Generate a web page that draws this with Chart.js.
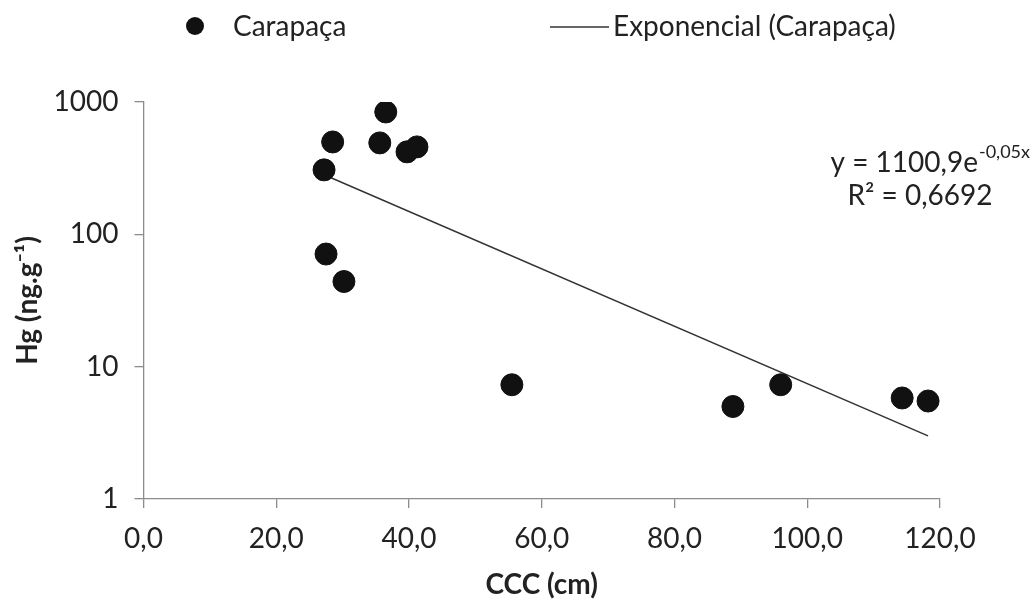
<!DOCTYPE html>
<html>
<head>
<meta charset="utf-8">
<script src="https://cdn.jsdelivr.net/npm/chart.js@4"></script>
<style>
html,body{margin:0;padding:0;background:#fff;}
#wrap{width:1036px;height:605px;}
</style>
</head>
<body>
<div id="wrap"><canvas id="c" width="1036" height="605"></canvas></div>
<script>
// Data
const cccValues = [27.2, 28.5, 27.5, 30.2, 35.6, 36.5, 39.7, 41.2, 55.5, 88.8, 96.0, 114.3, 118.2];
const hgValues  = [307, 499, 71, 44, 491, 841, 420, 458, 7.3, 5.0, 7.3, 5.8, 5.5];
const trendX = [27.2, 118.2];
const trendY = [282, 3.0];
const xTicks = [0, 20, 40, 60, 80, 100, 120];
const yTicks = [1, 10, 100, 1000];
const seriesName = 'Carapaça';
const trendName = 'Exponencial (Carapaça)';
const eqMain = 'y = 1100,9e';
const eqExp = '-0,05x';
const r2Text = 'R² = 0,6692';

const FONT = 'Lato, "Liberation Sans", sans-serif';
const TXT = '#222';
const AX = '#8c8c8c';

const overlay = {
  id: 'overlay',
  afterDraw(chart) {
    const ctx = chart.ctx;
    ctx.save();
    // legend
    ctx.fillStyle = '#111';
    ctx.beginPath(); ctx.arc(195, 26, 9, 0, Math.PI * 2); ctx.fill();
    ctx.font = '28px ' + FONT;
    ctx.textBaseline = 'middle';
    ctx.textAlign = 'left';
    ctx.fillStyle = TXT;
    ctx.fillText(seriesName, 233, 27);
    ctx.strokeStyle = '#333'; ctx.lineWidth = 1.5;
    ctx.beginPath(); ctx.moveTo(550, 27); ctx.lineTo(609, 27); ctx.stroke();
    ctx.fillText(trendName, 613, 27);
    // equation
    ctx.font = '28px ' + FONT;
    const w1 = ctx.measureText(eqMain).width;
    ctx.font = '18px ' + FONT;
    const w2 = ctx.measureText(eqExp).width;
    const x0 = 1029 - w1 - w2;
    ctx.font = '28px ' + FONT;
    ctx.fillText(eqMain, x0, 163);
    ctx.font = '18px ' + FONT;
    ctx.fillText(eqExp, x0 + w1 + 1, 152);
    ctx.font = '28px ' + FONT;
    ctx.textAlign = 'center';
    ctx.fillText(r2Text, 920, 196);
    ctx.restore();
  }
};

new Chart(document.getElementById('c'), {
  type: 'scatter',
  data: {
    datasets: [
      {
        label: seriesName,
        data: cccValues.map((x, i) => ({x, y: hgValues[i]})),
        backgroundColor: '#111',
        borderColor: '#111',
        pointRadius: 11,
        pointHoverRadius: 11,
        order: 1
      },
      {
        type: 'line',
        label: trendName,
        data: trendX.map((x, i) => ({x, y: trendY[i]})),
        borderColor: '#333',
        borderWidth: 1.5,
        pointRadius: 0,
        fill: false,
        order: 2
      }
    ]
  },
  options: {
    responsive: false,
    animation: false,
    events: [],
    layout: { padding: { top: 102, right: 96, left: 0, bottom: 0 } },
    plugins: { legend: { display: false }, tooltip: { enabled: false } },
    scales: {
      x: {
        type: 'linear', min: 0, max: 120,
        afterBuildTicks: s => { s.ticks = xTicks.map(v => ({value: v})); },
        afterFit: s => { s.height = 106; },
        grid: { display: true, drawOnChartArea: false, drawTicks: true, tickLength: 9, color: AX, lineWidth: 1.3 },
        border: { color: AX, width: 1.3 },
        ticks: {
          padding: 14, color: TXT, font: { family: FONT, size: 28 },
          callback: v => v.toFixed(1).replace('.', ',')
        },
        title: { display: true, text: 'CCC (cm)', color: TXT, font: { family: FONT, size: 28, weight: 'bold' }, padding: { top: 0, bottom: 3 } }
      },
      y: {
        type: 'logarithmic', min: 1, max: 1000,
        afterBuildTicks: s => { s.ticks = yTicks.map(v => ({value: v})); },
        afterFit: s => { s.width = 143.5; },
        grid: { display: true, drawOnChartArea: false, drawTicks: true, tickLength: 9, color: AX, lineWidth: 1.3 },
        border: { color: AX, width: 1.3 },
        ticks: {
          padding: 16, color: TXT, font: { family: FONT, size: 28 },
          callback: v => String(v)
        },
        title: { display: true, text: 'Hg (ng.g⁻¹)', color: TXT, font: { family: FONT, size: 28, weight: 'bold' }, padding: { top: 11, bottom: 0 } }
      }
    }
  },
  plugins: [overlay]
});
</script>
</body>
</html>
